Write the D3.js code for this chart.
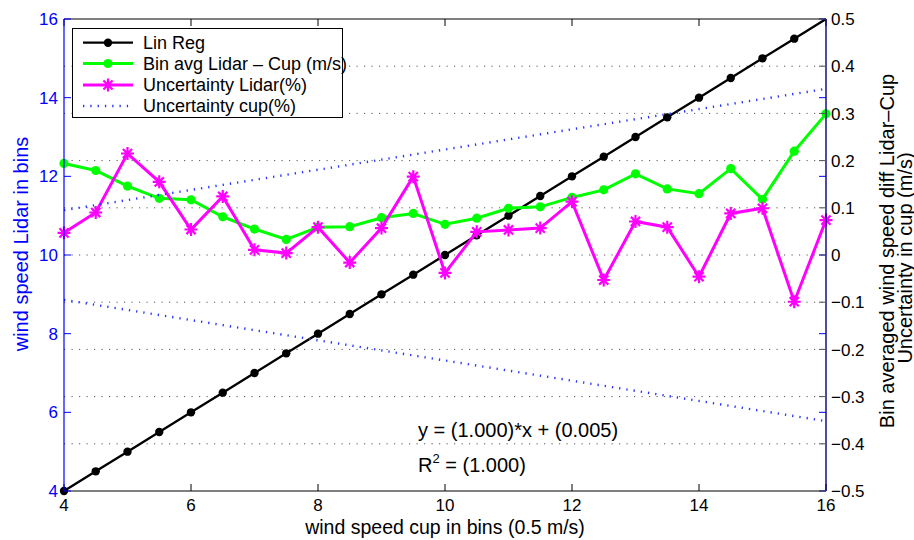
<!DOCTYPE html>
<html>
<head>
<meta charset="utf-8">
<script src="https://cdn.jsdelivr.net/npm/d3@7/dist/d3.min.js"></script>
<style>
  html, body { margin: 0; padding: 0; background: #fff; }
  svg { display: block; font-family: "Liberation Sans", Arial, Helvetica, sans-serif; }
</style>
</head>
<body>
<svg id="chart" width="914" height="540"></svg>
<script>
// ---------- data ----------
const bins = [4, 4.5, 5, 5.5, 6, 6.5, 7, 7.5, 8, 8.5, 9, 9.5, 10, 10.5, 11, 11.5, 12, 12.5, 13, 13.5, 14, 14.5, 15, 15.5, 16];
const linRegValues = [4, 4.5, 5, 5.5, 6, 6.5, 7, 7.5, 8, 8.5, 9, 9.5, 10, 10.5, 11, 11.5, 12, 12.5, 13, 13.5, 14, 14.5, 15, 15.5, 16];
const binAvgDiff = [0.194, 0.179, 0.146, 0.120, 0.117, 0.081, 0.055, 0.033, 0.059, 0.060, 0.079, 0.088, 0.065,
                    0.078, 0.099, 0.102, 0.122, 0.138, 0.172, 0.140, 0.130, 0.183, 0.118, 0.220, 0.299];
const uncLidar = [0.047, 0.090, 0.215, 0.155, 0.054, 0.124, 0.011, 0.004, 0.059, -0.016, 0.057, 0.166, -0.038,
                  0.049, 0.053, 0.057, 0.113, -0.053, 0.071, 0.059, -0.046, 0.088, 0.099, -0.099, 0.074];
const cupBins = [4, 16];
const uncCupUpper = [0.095, 0.352];
const uncCupLower = [-0.095, -0.352];
const xTicks = [4, 6, 8, 10, 12, 14, 16];
const yLeftTicks = [4, 6, 8, 10, 12, 14, 16];
const yRightTicks = [-0.5, -0.4, -0.3, -0.2, -0.1, 0, 0.1, 0.2, 0.3, 0.4, 0.5];
const legendLabels = ["Lin Reg", "Bin avg Lidar \u2013 Cup (m/s)", "Uncertainty Lidar(%)", "Uncertainty cup(%)"];

// ---------- layout ----------
const L = 64, R = 826, T = 19, B = 491;
const svg = d3.select("#chart");
const x = d3.scaleLinear().domain([4, 16]).range([L, R]);
const yL = d3.scaleLinear().domain([4, 16]).range([B, T]);
const yR = d3.scaleLinear().domain([-0.5, 0.5]).range([B, T]);
const tickLen = 7;
const fmtR = d => d === 0 ? "0" : (d < 0 ? "\u2212" + Math.abs(d).toFixed(1) : d.toFixed(1));
const blueDot = { stroke: "#2436ff", width: 2.4, dash: "1.3,6" };

// grid (right-axis ticks), dotted
svg.append("g").selectAll("line")
  .data(yRightTicks.filter(d => d > -0.5 && d < 0.5))
  .join("line")
  .attr("x1", L).attr("x2", R)
  .attr("y1", d => yR(d)).attr("y2", d => yR(d))
  .attr("stroke", "#555").attr("stroke-width", 1)
  .attr("stroke-dasharray", "1.2,6.3");

// ---------- series ----------
const linLine = d3.line().x((d, i) => x(bins[i])).y(d => yL(d));
svg.append("path").datum(linRegValues)
  .attr("d", linLine).attr("fill", "none").attr("stroke", "#000").attr("stroke-width", 2.3);
svg.append("g").selectAll("circle").data(linRegValues.slice(0, -1)).join("circle")
  .attr("cx", (d, i) => x(bins[i])).attr("cy", d => yL(d)).attr("r", 4.2).attr("fill", "#000");

const rLine = d3.line().x((d, i) => x(bins[i])).y(d => yR(d));
svg.append("path").datum(binAvgDiff)
  .attr("d", rLine).attr("fill", "none").attr("stroke", "#00ff00").attr("stroke-width", 3);
svg.append("g").selectAll("circle").data(binAvgDiff).join("circle")
  .attr("cx", (d, i) => x(bins[i])).attr("cy", d => yR(d)).attr("r", 4.6).attr("fill", "#00ff00");

svg.append("path").datum(uncLidar)
  .attr("d", rLine).attr("fill", "none").attr("stroke", "#ff00ff").attr("stroke-width", 3);
function asterisk(cx, cy, s) {
  const a = s * 0.7071;
  return `M${cx - s},${cy}L${cx + s},${cy}M${cx},${cy - s}L${cx},${cy + s}` +
         `M${cx - a},${cy - a}L${cx + a},${cy + a}M${cx - a},${cy + a}L${cx + a},${cy - a}`;
}
svg.append("g").selectAll("path").data(uncLidar).join("path")
  .attr("d", (d, i) => asterisk(x(bins[i]), yR(d), 6.5))
  .attr("stroke", "#ff00ff").attr("stroke-width", 2.2).attr("fill", "none");

const cupLine = d3.line().x((d, i) => x(cupBins[i])).y(d => yR(d));
[uncCupUpper, uncCupLower].forEach(arr => {
  svg.append("path").datum(arr)
    .attr("d", cupLine).attr("fill", "none").attr("stroke", blueDot.stroke).attr("stroke-width", blueDot.width)
    .attr("stroke-dasharray", blueDot.dash);
});

// ---------- axes ----------
svg.append("line").attr("x1", L).attr("x2", R).attr("y1", T).attr("y2", T).attr("stroke", "#000").attr("stroke-width", 1.2);
svg.append("line").attr("x1", L).attr("x2", R).attr("y1", B).attr("y2", B).attr("stroke", "#000").attr("stroke-width", 1.2);
const xt = svg.append("g");
xTicks.forEach(d => {
  xt.append("line").attr("x1", x(d)).attr("x2", x(d)).attr("y1", B).attr("y2", B - tickLen).attr("stroke", "#000");
  xt.append("line").attr("x1", x(d)).attr("x2", x(d)).attr("y1", T).attr("y2", T + tickLen).attr("stroke", "#000");
  xt.append("text").attr("x", x(d)).attr("y", 511).attr("text-anchor", "middle")
    .attr("font-size", 17).attr("fill", "#000").text(d);
});
svg.append("line").attr("x1", L).attr("x2", L).attr("y1", T).attr("y2", B).attr("stroke", "#0000ff").attr("stroke-width", 1.2);
const ylt = svg.append("g");
yLeftTicks.forEach(d => {
  ylt.append("line").attr("x1", L).attr("x2", L + tickLen).attr("y1", yL(d)).attr("y2", yL(d)).attr("stroke", "#0000ff");
  ylt.append("line").attr("x1", R).attr("x2", R - tickLen).attr("y1", yL(d)).attr("y2", yL(d)).attr("stroke", "#0000ff");
  ylt.append("text").attr("x", 58).attr("y", yL(d)).attr("dy", "0.36em").attr("text-anchor", "end")
    .attr("font-size", 17).attr("fill", "#0000ff").text(d);
});
svg.append("line").attr("x1", R).attr("x2", R).attr("y1", T).attr("y2", B).attr("stroke", "#000080").attr("stroke-width", 1.4);
const yrt = svg.append("g");
yRightTicks.forEach(d => {
  yrt.append("line").attr("x1", R).attr("x2", R - tickLen).attr("y1", yR(d)).attr("y2", yR(d)).attr("stroke", "#555");
  yrt.append("text").attr("x", 831).attr("y", yR(d)).attr("dy", "0.36em").attr("text-anchor", "start")
    .attr("font-size", 17).attr("fill", "#000").text(fmtR(d));
});

// axis labels
svg.append("text").attr("x", 445).attr("y", 534).attr("text-anchor", "middle")
  .attr("font-size", 19.5).attr("fill", "#000").text("wind speed cup in bins (0.5 m/s)");
svg.append("text").attr("transform", "translate(28,244) rotate(-90)").attr("text-anchor", "middle")
  .attr("font-size", 20).attr("fill", "#0000ff").text("wind speed Lidar in bins");
svg.append("text").attr("transform", "translate(894,251) rotate(-90)").attr("text-anchor", "middle")
  .attr("font-size", 20).attr("fill", "#000").text("Bin averaged wind speed diff Lidar\u2013Cup");
svg.append("text").attr("transform", "translate(912,258) rotate(-90)").attr("text-anchor", "middle")
  .attr("font-size", 20).attr("fill", "#000").text("Uncertainty in cup (m/s)");

// equation annotations
svg.append("text").attr("x", 418).attr("y", 437).attr("font-size", 20).attr("fill", "#000")
  .text("y = (1.000)*x + (0.005)");
const r2 = svg.append("text").attr("x", 418).attr("y", 472).attr("font-size", 20).attr("fill", "#000");
r2.append("tspan").text("R");
r2.append("tspan").attr("font-size", 13).attr("dy", -9).text("2");
r2.append("tspan").attr("dy", 9).text(" = (1.000)");

// ---------- legend ----------
const lg = svg.append("g");
lg.append("rect").attr("x", 72.5).attr("y", 28.5).attr("width", 270).attr("height", 89)
  .attr("fill", "#fff").attr("stroke", "#000").attr("stroke-width", 1);
const rows = [42.7, 63.5, 85, 106];
const lx1 = 83, lx2 = 133, lmx = 108;
lg.append("line").attr("x1", lx1).attr("x2", lx2).attr("y1", rows[0]).attr("y2", rows[0]).attr("stroke", "#000").attr("stroke-width", 2.3);
lg.append("circle").attr("cx", lmx).attr("cy", rows[0]).attr("r", 4.2).attr("fill", "#000");
lg.append("line").attr("x1", lx1).attr("x2", lx2).attr("y1", rows[1]).attr("y2", rows[1]).attr("stroke", "#00ff00").attr("stroke-width", 3);
lg.append("circle").attr("cx", lmx).attr("cy", rows[1]).attr("r", 4.6).attr("fill", "#00ff00");
lg.append("line").attr("x1", lx1).attr("x2", lx2).attr("y1", rows[2]).attr("y2", rows[2]).attr("stroke", "#ff00ff").attr("stroke-width", 3);
lg.append("path").attr("d", asterisk(lmx, rows[2], 6.5)).attr("stroke", "#ff00ff").attr("stroke-width", 2.2);
lg.append("line").attr("x1", lx1).attr("x2", lx2).attr("y1", rows[3]).attr("y2", rows[3]).attr("stroke", blueDot.stroke)
  .attr("stroke-width", blueDot.width).attr("stroke-dasharray", blueDot.dash);
legendLabels.forEach((t, i) => {
  lg.append("text").attr("x", 143).attr("y", rows[i]).attr("dy", "0.36em").attr("font-size", 18).attr("fill", "#000").text(t);
});
</script>
</body>
</html>
